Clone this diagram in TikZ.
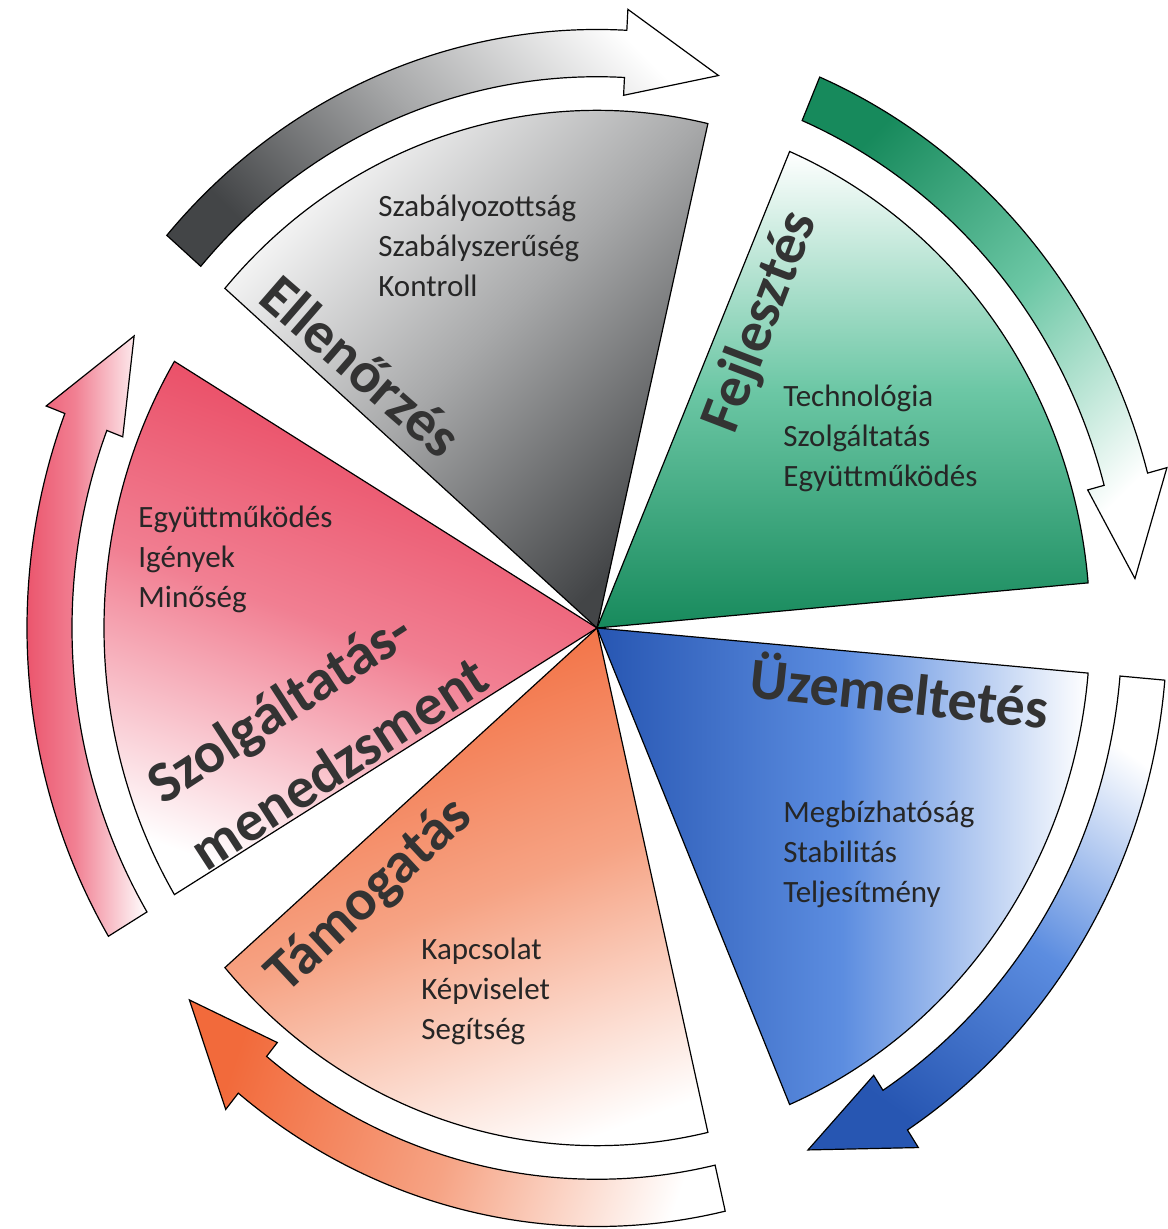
\documentclass[tikz,border=0pt]{standalone}
\usepackage{fontspec}
\setmainfont{Carlito}
\usepackage{tikz}
\usetikzlibrary{positioning}

\definecolor{slateDark}{HTML}{434547}
\definecolor{slateMid}{HTML}{A8A9AA}
\definecolor{jadeDark}{HTML}{178A5C}
\definecolor{jadeMid}{HTML}{6CC7A5}
\definecolor{royalDark}{HTML}{2756B2}
\definecolor{royalMid}{HTML}{5C8DE0}
\definecolor{coralDark}{HTML}{F26A3B}
\definecolor{coralMid}{HTML}{F6A384}
\definecolor{roseDark}{HTML}{E8405A}
\definecolor{roseMid}{HTML}{F17F92}

\tikzset{
  slice/.style={draw=black, line width=0.6pt},
  ringarrow/.style={draw=black, line width=0.6pt},
  items/.style={anchor=north west, align=left, inner sep=0pt,
    font=\fontsize{15.5}{20}\selectfont, text=black!85},
  heading/.style={inner sep=0pt, text=black!80,
    font=\fontsize{29}{40}\selectfont\bfseries},
}

% shading, from angle, to angle
\newcommand{\pieslice}[3]{%
  \draw[slice,#1] (0,0) -- (#2:493) arc[start angle=#2, end angle=#3, radius=493] -- cycle;}

% shading, tail angle, tip angle
\newcommand{\cyclearrow}[3]{%
  \draw[ringarrow,#1] (#2:570) arc[start angle=#2, end angle=#3+10, radius=570]
    -- ({#3+10}:590) -- (#3:540) -- ({#3+10}:508) -- ({#3+10}:525)
    arc[start angle=#3+10, end angle=#2, radius=525] -- cycle;}

\begin{document}
\begin{tikzpicture}[x=0.5pt, y=0.5pt]
  \useasboundingbox (-597,-601) rectangle (570,628);

  \begin{scope}[yscale=1.05]
    % Slices
    \pieslice{top color=white, bottom color=slateDark, middle color=slateMid, shading angle=45}{77}{139}
    \pieslice{top color=white, bottom color=jadeDark, middle color=jadeMid}{5}{67}
    \pieslice{left color=royalDark, right color=white, middle color=royalMid}{-67}{-5}
    \pieslice{top color=coralDark, bottom color=white, middle color=coralMid, shading angle=20}{-139}{-77}
    \pieslice{top color=roseDark, bottom color=white, middle color=roseMid, shading angle=-20}{149}{211}

    % Arrows
    \cyclearrow{top color=white, bottom color=slateDark, middle color=slateMid, shading angle=-45}{139}{77}
    \cyclearrow{top color=jadeDark, bottom color=white, middle color=jadeMid, shading angle=45}{67}{5}
    \cyclearrow{top color=white, bottom color=royalDark, middle color=royalMid, shading angle=-35}{-5}{-67}
    \cyclearrow{top color=coralDark, bottom color=white, middle color=coralMid, shading angle=71}{-77}{-139}
    \cyclearrow{left color=roseDark, right color=white, middle color=roseMid}{211}{149}
  \end{scope}

  % Headings
  \node[heading, rotate=-41] (control) at (-236,262) {Ellenőrzés};
  \node[heading, rotate=69]  (develop) at (164,306)  {Fejlesztés};
  \node[heading, rotate=-6]  (operate) at (303,-62)  {Üzemeltetés};
  \node[heading, rotate=43]  (support) at (-227,-268) {Támogatás};
  \node[heading, rotate=33, align=left] (service) at (-280,-101) {Szolgáltatás-\\menedzsment};

  % Items
  \node[items] (controlitems) at (-219,433) {Szabályozottság\\Szabályszerűség\\Kontroll};
  \node[items] (developitems) at (186,243)  {Technológia\\Szolgáltatás\\Együttműködés};
  \node[items] (operateitems) at (186,-173) {Megbízhatóság\\Stabilitás\\Teljesítmény};
  \node[items] (supportitems) at (-176,-310) {Kapcsolat\\Képviselet\\Segítség};
  \node[items] (serviceitems) at (-459,122) {Együttműködés\\Igények\\Minőség};
\end{tikzpicture}
\end{document}
